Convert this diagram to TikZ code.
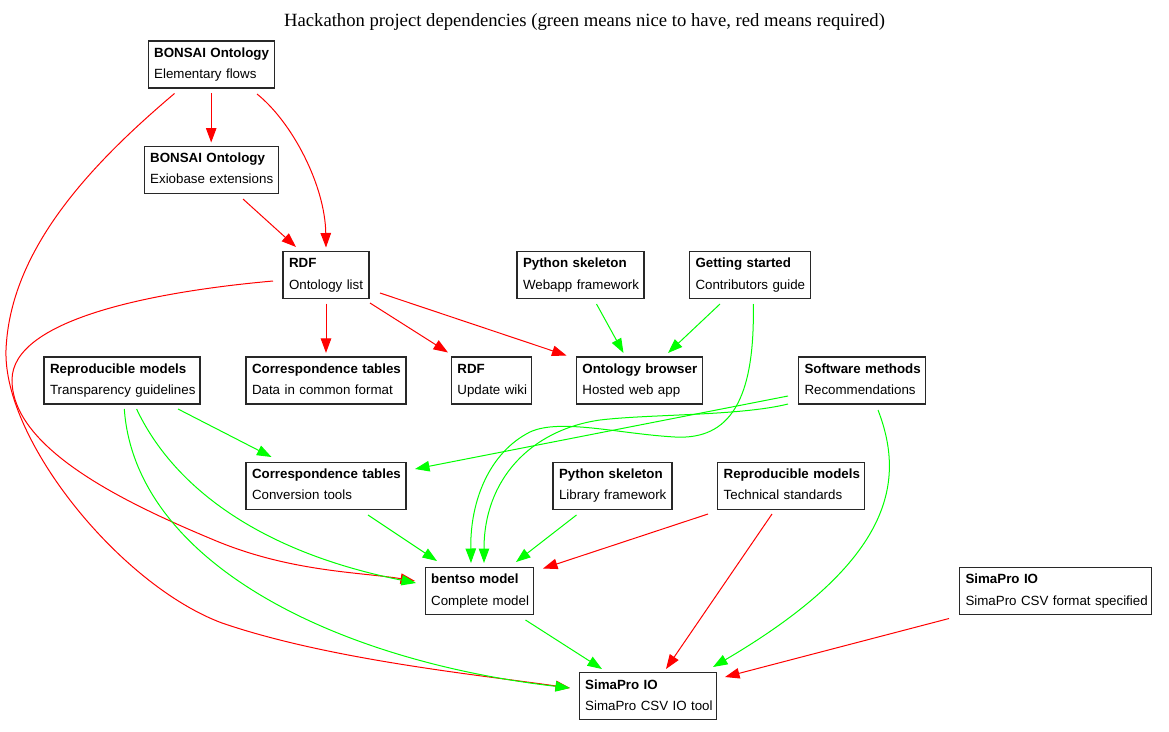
\documentclass[tikz,border=0pt]{standalone}
\usepackage{fontspec}
\setmainfont{Liberation Sans}
\newfontfamily\titlefont{Liberation Serif}
\usetikzlibrary{arrows.meta,calc}
\definecolor{gvred}{RGB}{255,0,0}
\definecolor{gvgreen}{RGB}{0,255,0}
\definecolor{gvline}{RGB}{40,40,40}
\newcommand\twolines[2]{\rule{0pt}{10pt}\mbox{\textbf{#1}}\\\mbox{#2}\rule[-3pt]{0pt}{3pt}}
\tikzset{
  box/.style={draw=gvline, line width=1.2pt, fill=white, rectangle, inner xsep=6pt, inner ysep=0pt,
    minimum height=47pt, align=left, font=\fontsize{13.33}{21.33}\selectfont},
  redge/.style={draw=gvred, line width=1pt, -{Triangle[length=14.5pt,width=10.5pt]}},
  gedge/.style={draw=gvgreen, line width=1pt, -{Triangle[length=14.5pt,width=10.5pt]}}
}
\begin{document}
\begin{tikzpicture}[x=1pt,y=-1pt]
\useasboundingbox (0,0) rectangle (1169,731);
\fill[white] (0,0) rectangle (1169,731);

\node[anchor=base, font=\titlefont\fontsize{18.67}{22}\selectfont] (title) at (584.5,26)
  {Hackathon project dependencies (green means nice to have, red means required)};

% nodes
\node[box, text width=114pt] (ef) at (211.2,64.5) {\twolines{BONSAI Ontology}{Elementary flows}};
\node[box, text width=122pt] (exio) at (211.2,169.8) {\twolines{BONSAI Ontology}{Exiobase extensions}};
\node[box, text width=74pt] (rdfol) at (326,275.1) {\twolines{RDF}{Ontology list}};
\node[box, text width=115pt] (pyweb) at (580.5,275.1) {\twolines{Python skeleton}{Webapp framework}};
\node[box, text width=109pt] (gs) at (750,275.1) {\twolines{Getting started}{Contributors guide}};
\node[box, text width=144pt] (transp) at (122,380.4) {\twolines{Reproducible models}{Transparency guidelines}};
\node[box, text width=148pt] (corrdata) at (326,380.4) {\twolines{Correspondence tables}{Data in common format}};
\node[box, text width=68pt] (rdfwiki) at (491.4,380.4) {\twolines{RDF}{Update wiki}};
\node[box, text width=114pt] (ontb) at (639.4,380.4) {\twolines{Ontology browser}{Hosted web app}};
\node[box, text width=115pt] (softm) at (862,380.4) {\twolines{Software methods}{Recommendations}};
\node[box, text width=148pt] (corrconv) at (326,485.7) {\twolines{Correspondence tables}{Conversion tools}};
\node[box, text width=107pt] (pylib) at (612.5,485.7) {\twolines{Python skeleton}{Library framework}};
\node[box, text width=135pt] (techstd) at (791.2,485.7) {\twolines{Reproducible models}{Technical standards}};
\node[box, text width=96pt] (bentso) at (479.2,591) {\twolines{bentso model}{Complete model}};
\node[box, text width=180pt] (spcsv) at (1055.5,591) {\twolines{SimaPro IO}{SimaPro CSV format specified}};
\node[box, text width=125pt] (spt) at (647.7,696.3) {\twolines{SimaPro IO}{SimaPro CSV IO tool}};

% red edges (required)
\draw[redge] ($(ef.center)+(0,28.5)$) -- ($(exio.center)+(0,-27.3)$);
\draw[redge] ($(ef.center)+(45.8,29.5)$) .. controls (292,122) and (325,185) .. ($(rdfol.center)+(0,-27.6)$);
\draw[redge] ($(exio.center)+(31.8,29.2)$) -- ($(rdfol.center)+(-30,-28.1)$);
\draw[redge] ($(rdfol.center)+(0,28.5)$) -- ($(corrdata.center)+(0,-27.5)$);
\draw[redge] ($(rdfol.center)+(44,27.9)$) -- ($(rdfwiki.center)+(-43.4,-27.9)$);
\draw[redge] ($(rdfol.center)+(54,17.9)$) -- ($(ontb.center)+(-72.9,-24.9)$);
\draw[redge] ($(techstd.center)+(-83.2,28.3)$) -- ($(bentso.center)+(63.8,-22.5)$);
\draw[redge] ($(techstd.center)+(-19.2,28.3)$) -- ($(spt.center)+(18.3,-27.3)$);
\draw[redge] ($(spcsv.center)+(-106.5,27.5)$) -- ($(spt.center)+(77.3,-19.3)$);
\draw[redge] ($(ef.center)+(-36.7,29)$) .. controls (90,165) and (10,250) .. (6,350)
  .. controls (3,440) and (120,585) .. (222,623)
  .. controls (330,660) and (480,675) .. ($(spt.center)+(-77.7,-8.3)$);
\draw[redge] ($(rdfol.center)+(-53,5.9)$) .. controls (150,292) and (12,320) .. (12,380)
  .. controls (12,450) and (130,505) .. (214,540)
  .. controls (290,572) and (360,572) .. ($(bentso.center)+(-64.2,-10)$);

% green edges (nice to have)
\draw[gedge] ($(pyweb.center)+(16,28.9)$) -- ($(ontb.center)+(-15.9,-27.4)$);
\draw[gedge] ($(gs.center)+(-30,28.9)$) -- ($(ontb.center)+(28.6,-27.4)$);
\draw[gedge] ($(gs.center)+(3.3,28.9)$) .. controls (755,400) and (730,440) .. (675,437)
  .. controls (620,434) and (560,418) .. (530,432)
  .. controls (490,452) and (470,500) .. ($(bentso.center)+(-8.2,-28)$);
\draw[gedge] ($(softm.center)+(-74,23.6)$) .. controls (740,416) and (650,414) .. (600,420)
  .. controls (530,430) and (484,480) .. ($(bentso.center)+(4.8,-28)$);
\draw[gedge] ($(softm.center)+(-74,15.6)$) -- ($(corrconv.center)+(89,-16.7)$);
\draw[gedge] ($(softm.center)+(16,29.6)$) .. controls (905,480) and (895,560) .. ($(spt.center)+(65.3,-29.3)$);
\draw[gedge] ($(transp.center)+(56,28.6)$) -- ($(corrconv.center)+(-54.5,-28.7)$);
\draw[gedge] ($(transp.center)+(14.6,28.6)$) .. controls (170,480) and (250,550) .. ($(bentso.center)+(-63.2,-8)$);
\draw[gedge] ($(transp.center)+(2.3,28.6)$) .. controls (135,560) and (330,660) .. ($(spt.center)+(-77.7,-8.3)$);
\draw[gedge] ($(corrconv.center)+(42,29.3)$) -- ($(bentso.center)+(-42.2,-30)$);
\draw[gedge] ($(pylib.center)+(-36,29.3)$) -- ($(bentso.center)+(36.8,-29)$);
\draw[gedge] ($(bentso.center)+(46.3,29)$) -- ($(spt.center)+(-45.7,-27.3)$);
\end{tikzpicture}
\end{document}
